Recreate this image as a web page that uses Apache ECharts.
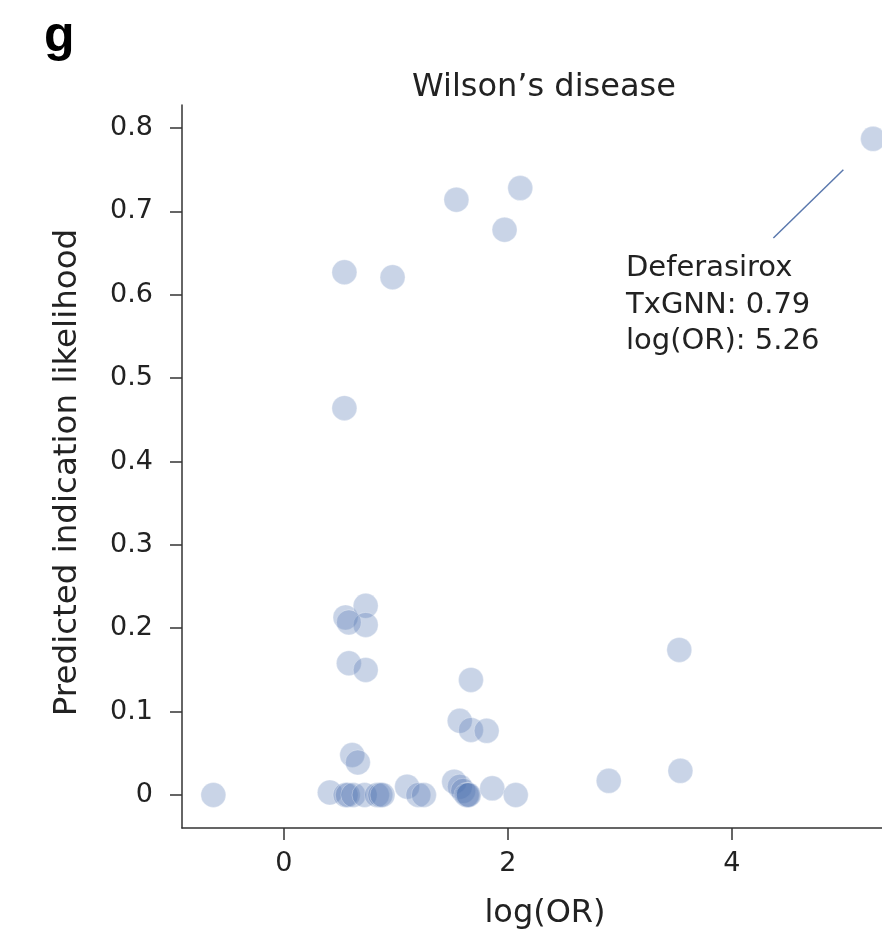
<!DOCTYPE html>
<html>
<head>
<meta charset="utf-8">
<script src="https://cdn.jsdelivr.net/npm/echarts@6/dist/echarts.min.js"></script>
<style>
  html, body { margin: 0; padding: 0; background: #fff; }
  #scatterOR { width: 882px; height: 939px; }
</style>
</head>
<body>
<div id="scatterOR"></div>
<script>
// log(OR) vs TxGNN score, Wilson's disease
var logOR = [
  0.54, 0.97, 1.54, 2.11, 1.97, 5.26,
  0.54, 0.55, 0.73, 0.73, 0.58,
  0.58, 0.73, 1.67, 1.57, 1.67, 1.81,
  3.53, 3.54, 2.90, 0.61, 0.66, -0.63,
  0.41, 0.55, 0.57, 0.62, 0.72, 0.83, 0.86, 0.88,
  1.10, 1.20, 1.25, 1.52, 1.57, 1.60, 1.63, 1.64, 1.65,
  1.86, 2.07
];
var txgnn = [
  0.627, 0.621, 0.714, 0.728, 0.678, 0.787,
  0.464, 0.213, 0.227, 0.204, 0.207,
  0.158, 0.150, 0.138, 0.089, 0.078, 0.077,
  0.174, 0.029, 0.017, 0.048, 0.039, 0.000,
  0.003, 0.000, 0.000, 0.000, 0.000, 0.000, 0.000, 0.000,
  0.010, 0.000, 0.000, 0.016, 0.010, 0.005, 0.000, 0.000, 0.000,
  0.008, 0.000
];
var xTicks = [0, 2, 4];
var yTicks = [0, 0.1, 0.2, 0.3, 0.4, 0.5, 0.6, 0.7, 0.8];
var noteLine = [[4.37, 0.668], [4.995, 0.750]];
var noteText = ['Deferasirox', 'TxGNN: 0.79', 'log(OR): 5.26'];

var points = logOR.map(function (x, i) { return [x, txgnn[i]]; });
var font = '"DejaVu Sans", sans-serif';

var chart = echarts.init(document.getElementById('scatterOR'));
chart.setOption({
  animation: false,
  grid: { left: 182, top: 105, right: 0, bottom: 111, outerBoundsMode: 'none' },
  xAxis: {
    type: 'value',
    min: -0.91, max: 5.34,
    name: 'log(OR)',
    nameLocation: 'middle',
    nameGap: 70,
    nameTextStyle: { fontSize: 32, color: '#222', fontFamily: font, padding: [0, 0, 0, 26] },
    axisLine: { onZero: false, lineStyle: { color: '#333', width: 1.5 } },
    axisTick: { show: true, length: 12, customValues: xTicks, lineStyle: { color: '#333', width: 1.5 } },
    axisLabel: { customValues: xTicks, fontSize: 27, color: '#222', margin: 22, fontFamily: font },
    splitLine: { show: false }
  },
  yAxis: {
    type: 'value',
    min: -0.0396, max: 0.8276,
    name: 'Predicted indication likelihood',
    nameLocation: 'middle',
    nameGap: 98,
    nameTextStyle: { fontSize: 32.5, color: '#222', fontFamily: font, padding: [0, 12, 0, 0] },
    axisLine: { show: true, onZero: false, lineStyle: { color: '#333', width: 1.5 } },
    axisTick: { show: true, length: 12, customValues: yTicks, lineStyle: { color: '#333', width: 1.5 } },
    axisLabel: { customValues: yTicks, fontSize: 27, color: '#222', margin: 29, fontFamily: font },
    splitLine: { show: false }
  },
  series: [{
    type: 'scatter',
    data: points,
    symbolSize: 25,
    itemStyle: { color: '#4c72b0', opacity: 0.3, borderColor: '#fff', borderWidth: 1 },
    markLine: {
      silent: true,
      symbol: 'none',
      label: { show: false },
      lineStyle: { color: '#5a78ad', width: 1.5, type: 'solid' },
      data: [[{ coord: noteLine[0] }, { coord: noteLine[1] }]]
    }
  }],
  graphic: [
    { type: 'text', x: 44, y: 12, style: { text: 'g', font: 'bold 50px "Liberation Sans", sans-serif', fill: '#000', verticalAlign: 'top' } },
    { type: 'text', x: 544, y: 88, style: { text: 'Wilson\u2019s disease', font: '32px ' + font, fill: '#222', align: 'center', verticalAlign: 'middle' } },
    { type: 'text', x: 626, y: 268, style: { text: noteText[0], font: '29px ' + font, fill: '#222', verticalAlign: 'middle' } },
    { type: 'text', x: 626, y: 305, style: { text: noteText[1], font: '29px ' + font, fill: '#222', verticalAlign: 'middle' } },
    { type: 'text', x: 626, y: 341, style: { text: noteText[2], font: '29px ' + font, fill: '#222', verticalAlign: 'middle' } }
  ]
});
</script>
</body>
</html>
